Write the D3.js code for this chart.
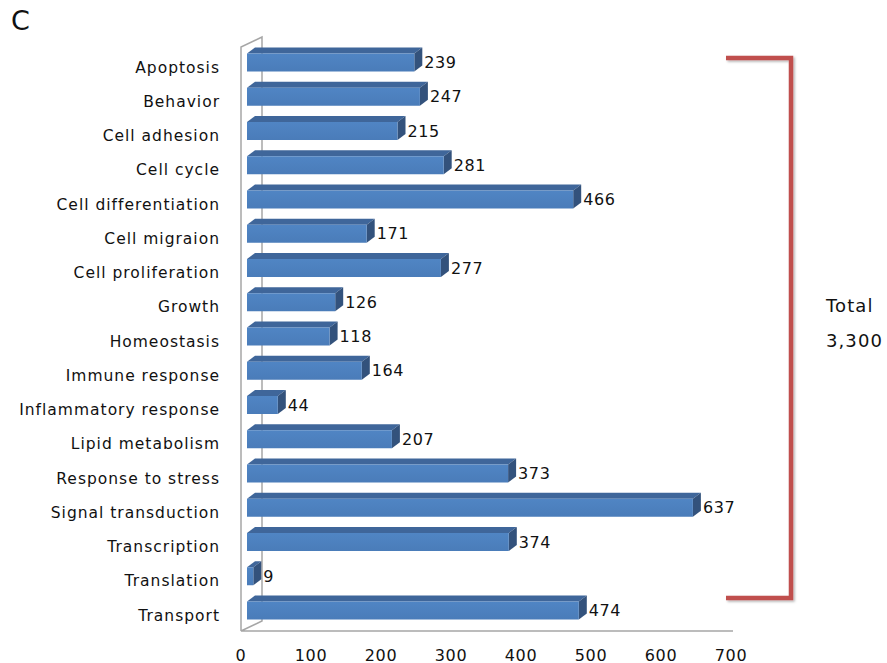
<!DOCTYPE html>
<html><head><meta charset="utf-8">
<script src="https://cdn.jsdelivr.net/npm/d3@7"></script>
<style>body{margin:0;background:#fff}svg{display:block}text{font-family:"DejaVu Sans",sans-serif;fill:#111}</style>
</head><body><svg id="c" width="887" height="663"></svg>
<script>
const categories = ["Apoptosis","Behavior","Cell adhesion","Cell cycle","Cell differentiation","Cell migraion","Cell proliferation","Growth","Homeostasis","Immune response","Inflammatory response","Lipid metabolism","Response to stress","Signal transduction","Transcription","Translation","Transport"];
const values = [239,247,215,281,466,171,277,126,118,164,44,207,373,637,374,9,474];
const xTicks = [0,100,200,300,400,500,600,700];
const totalLabel = ["Total","3,300"];

const svg = d3.select("#c");
const x = d3.scaleLinear().domain([0,700]).range([241,731]);
const y = d3.scalePoint().domain(categories).range([62.5,610.5]);
const depth = {dx:21, dy:-10};
const barOff = 6, barH = 18, bdx = 8, bdy = -6;

// wall & floor
const g = svg.append("g").attr("stroke","#a6a6a6").attr("stroke-width",1.5).attr("fill","none");
g.append("path").attr("d",`M${x(0)},631 L${x(0)},47 L${x(0)+depth.dx},37 L${x(0)+depth.dx},621 L${x(0)},631 L733,631`);

// axis labels
svg.append("g").selectAll("text").data(xTicks).join("text")
  .attr("x",d=>x(d)).attr("y",656).attr("text-anchor","middle").attr("dominant-baseline","middle")
  .attr("font-size",16).attr("letter-spacing",0.6).text(d=>d);

// category labels
svg.append("g").selectAll("text").data(categories).join("text")
  .attr("x",220).attr("y",d=>y(d)+5.5).attr("text-anchor","end").attr("dominant-baseline","middle")
  .attr("font-size",15.5).attr("letter-spacing",1.0).text(d=>d);

const defs = svg.append("defs");
const lg = defs.append("linearGradient").attr("id","fg").attr("x1",0).attr("y1",0).attr("x2",0).attr("y2",1);
lg.append("stop").attr("offset","0%").attr("stop-color","#5085c4");
lg.append("stop").attr("offset","100%").attr("stop-color","#4a7cb9");
const sh = defs.append("filter").attr("id","sh").attr("x","-10%").attr("y","-10%").attr("width","130%").attr("height","130%");
sh.append("feDropShadow").attr("dx",1.5).attr("dy",1.5).attr("stdDeviation",1.2).attr("flood-color","#000").attr("flood-opacity",0.3);

// bars
const bars = svg.append("g").selectAll("g").data(categories.map((c,i)=>({c,v:values[i]}))).join("g");
bars.each(function(d){
  const s = d3.select(this);
  const x0 = x(0)+barOff, x1 = x(d.v)+barOff, yt = y(d.c)-barH/2, yb = y(d.c)+barH/2;
  s.append("path").attr("d",`M${x0},${yt} L${x0+bdx},${yt+bdy} L${x1+bdx},${yt+bdy} L${x1},${yt} Z`).attr("fill","#3f669a");
  s.append("path").attr("d",`M${x1},${yt} L${x1+bdx},${yt+bdy} L${x1+bdx},${yb+bdy} L${x1},${yb} Z`).attr("fill","#33527c");
  s.append("rect").attr("x",x0).attr("y",yt).attr("width",x1-x0).attr("height",barH).attr("fill","url(#fg)");
  s.append("text").attr("x",x1+bdx+2).attr("y",y(d.c)+1).attr("dominant-baseline","middle")
    .attr("font-size",16).attr("letter-spacing",0.6).text(d.v);
});

// bracket
svg.append("path").attr("d","M726,58 L791,58 L791,598 L726,598").attr("fill","none")
  .attr("stroke","#c0504d").attr("stroke-width",4.5).attr("filter","url(#sh)");
svg.append("g").selectAll("text").data(totalLabel).join("text")
  .attr("x",826).attr("y",(d,i)=>307+i*35).attr("dominant-baseline","middle")
  .attr("font-size",18).attr("letter-spacing",1.1).text(d=>d);

svg.append("text").attr("x",11).attr("y",30).attr("font-size",27).text("C");
</script></body></html>
